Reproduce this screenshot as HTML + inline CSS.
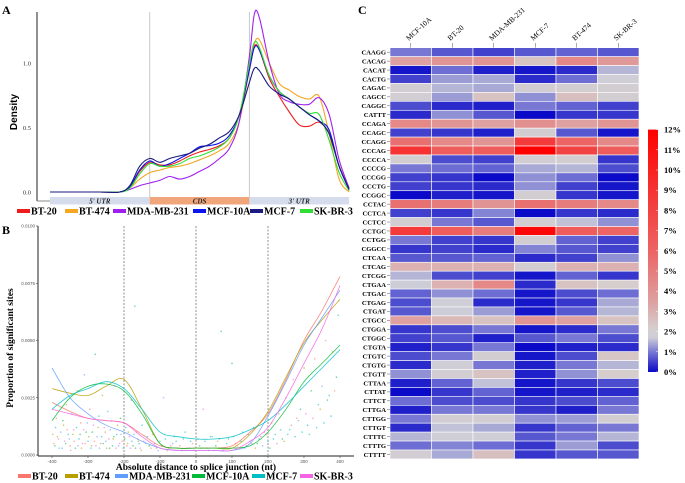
<!DOCTYPE html>
<html><head><meta charset="utf-8"><style>
body{margin:0;background:#fff}
svg{display:block;font-family:"Liberation Serif",serif}
</style></head><body>
<svg id="fig" width="685" height="483" viewBox="0 0 685 483">
<g id="A"></g>
<g id="B"></g>
<g id="C"></g>
</svg>
<script>
const NS="http://www.w3.org/2000/svg";
function mk(p,t,a,txt){const e=document.createElementNS(NS,t);for(const k in a)e.setAttribute(k,a[k]);if(txt!=null)e.textContent=txt;p.appendChild(e);return e;}
function smooth(pts){let d="M"+pts[0][0]+","+pts[0][1];for(let i=0;i<pts.length-1;i++){const p0=pts[i-1]||pts[i],p1=pts[i],p2=pts[i+1],p3=pts[i+2]||p2;
const c1=[p1[0]+(p2[0]-p0[0])/6,p1[1]+(p2[1]-p0[1])/6],c2=[p2[0]-(p3[0]-p1[0])/6,p2[1]-(p3[1]-p1[1])/6];
d+=" C"+c1[0].toFixed(1)+","+c1[1].toFixed(1)+" "+c2[0].toFixed(1)+","+c2[1].toFixed(1)+" "+p2[0].toFixed(1)+","+p2[1].toFixed(1);}return d;}

/* ---------- Panel A data ---------- */
const aSeries=["BT-20","BT-474","MDA-MB-231","MCF-10A","MCF-7","SK-BR-3"];
const aColors=["#ee1c1c","#f5a623","#a020f0","#0a14f0","#1a1a80","#33dd33"];
const aPos=[0,0.5,0.7,0.8,0.9,1.0,1.1,1.2,1.3,1.4,1.5,1.6,1.7,1.8,1.9,2.0,2.05,2.1,2.2,2.3,2.4,2.5,2.6,2.7,2.8,2.9,3.0];
const aBT20=[0,0,0,0.04,0.16,0.23,0.21,0.21,0.24,0.28,0.31,0.33,0.36,0.42,0.6,0.95,1.13,1.1,0.88,0.74,0.62,0.52,0.51,0.54,0.45,0.2,0.02];
const aBT474=[0,0,0,0.03,0.1,0.15,0.17,0.19,0.2,0.22,0.25,0.28,0.32,0.38,0.55,0.95,1.15,1.18,1.0,0.84,0.79,0.74,0.72,0.74,0.45,0.1,0.0];
const aMDA=[0,0,0,0.02,0.05,0.07,0.09,0.12,0.1,0.12,0.16,0.2,0.26,0.34,0.55,1.05,1.38,1.35,1.0,0.76,0.7,0.68,0.68,0.73,0.6,0.25,0.03];
const aMCF10A=[0,0,0,0.04,0.17,0.24,0.2,0.22,0.26,0.3,0.35,0.36,0.38,0.44,0.6,0.95,1.12,1.1,0.9,0.78,0.72,0.66,0.6,0.55,0.48,0.2,0.02];
const aMCF7=[0,0,0,0.05,0.2,0.26,0.23,0.26,0.28,0.3,0.34,0.37,0.42,0.47,0.6,0.85,0.96,0.94,0.82,0.76,0.72,0.66,0.6,0.55,0.45,0.2,0.02];
const aSKBR3=[0,0,0,0.03,0.14,0.22,0.2,0.2,0.22,0.26,0.28,0.31,0.35,0.42,0.6,1.0,1.16,1.12,0.9,0.78,0.72,0.66,0.61,0.6,0.4,0.15,0.01];
const aYTicks=[0,0.5,1.0];
const aYLabels=["0.0","0.5","1.0"];
const aRegions=["5' UTR","CDS","3' UTR"];

/* ---------- Panel B data ---------- */
const bSeries=["BT-20","BT-474","MDA-MB-231","MCF-10A","MCF-7","SK-BR-3"];
const bColors=["#f8766d","#b79f00","#619cff","#00ba38","#00bfc4","#f564e3"];
const bX=[-400,-350,-300,-250,-200,-150,-100,-50,0,50,100,150,200,250,300,350,400];
const bBT20=[2.3,1.9,1.6,1.5,1.4,0.9,0.4,0.3,0.3,0.3,0.4,1.0,1.8,3.3,5.0,6.3,7.8];
const bBT474=[2.9,2.7,2.6,3.0,3.3,2.0,0.5,0.3,0.3,0.3,0.3,0.9,1.9,3.4,4.9,5.9,6.8];
const bMDA=[3.8,2.5,1.8,1.3,1.0,0.6,0.3,0.2,0.2,0.2,0.2,0.5,1.7,3.2,4.8,6.0,7.2];
const bMCF10A=[1.5,2.5,3.0,3.1,2.8,1.8,0.5,0.3,0.3,0.3,0.3,0.4,1.0,2.0,3.2,4.0,4.8];
const bMCF7=[2.0,2.6,2.9,3.2,2.9,2.0,1.0,0.8,0.7,0.7,0.8,1.1,1.5,2.2,3.0,3.8,4.6];
const bSKBR3=[2.0,1.8,1.6,1.5,1.4,0.8,0.3,0.2,0.2,0.2,0.2,0.6,1.2,2.5,4.0,5.5,7.4];
const bYTicks=[0,2.5,5,7.5,10];
const bYLabels=["0.0000","0.0025","0.0050","0.0075","0.0100"];
const bXTicks=[-400,-300,-200,-100,0,100,200,300,400];
/* scatter points: [distance, value(x1e-3), series index] */
const bPts=[[-395,0.5,0],[-390,1.2,4],[-385,0.8,1],[-380,0.3,2],[-370,1.5,3],[-365,0.6,5],[-360,2.2,1],[-355,0.9,4],[-350,0.4,0],[-345,1.8,2],[-340,1.1,5],[-335,0.3,3],[-330,2.8,1],[-325,0.7,4],[-320,1.4,0],[-315,0.5,5],[-310,3.5,2],[-305,1.0,3],[-300,0.6,4],[-295,2.0,0],[-290,0.4,1],[-285,1.3,5],[-280,4.4,3],[-275,0.8,2],[-270,1.7,4],[-265,0.5,0],[-260,2.6,1],[-255,1.2,5],[-250,0.6,2],[-245,1.9,4],[-240,0.3,3],[-235,1.5,0],[-230,0.7,1],[-225,3.0,5],[-220,0.9,4],[-215,0.4,2],[-210,1.6,3],[-205,0.6,0],[-195,1.2,4],[-190,0.5,1],[-185,0.8,5],[-180,2.4,2],[-175,0.4,3],[-170,6.5,4],[-165,1.0,0],[-160,0.6,1],[-155,0.3,5],[-150,1.3,4],[-140,0.5,2],[-130,0.4,3],[-120,0.9,0],[-110,0.3,1],[-100,0.6,4],[-90,2.5,2],[-80,0.2,5],[-70,0.4,0],[-60,0.8,4],[-50,0.3,3],[-40,0.2,1],[-30,1.0,4],[-20,0.3,2],[-10,0.5,0],[10,0.4,4],[20,2.0,5],[30,0.3,3],[40,0.8,4],[50,0.2,1],[60,0.6,0],[70,5.4,4],[80,0.3,2],[90,0.7,4],[100,4.0,3],[110,0.5,5],[120,0.3,0],[130,1.0,4],[140,0.4,1],[150,0.6,2],[160,1.2,4],[170,0.5,3],[180,0.8,0],[190,1.0,5],[200,0.6,4],[210,1.4,1],[220,0.9,4],[230,1.8,0],[240,0.7,3],[250,2.5,2],[260,1.1,4],[270,3.3,5],[280,1.6,0],[290,2.0,4],[300,3.8,1],[310,1.3,4],[320,2.8,3],[330,4.2,0],[340,2.2,4],[350,3.0,2],[360,5.0,5],[370,2.6,4],[380,4.5,1],[390,3.4,3],[395,6.1,4],
[-398,0.9,1],[-392,0.4,3],[-388,1.6,0],[-382,0.7,5],[-376,1.0,2],[-372,0.3,4],[-368,1.3,1],[-362,0.5,3],[-358,1.1,0],[-352,0.7,2],[-348,0.2,5],[-342,0.9,1],[-338,0.6,0],[-332,1.2,4],[-328,0.4,2],[-322,0.9,3],[-318,0.3,1],[-312,1.1,5],[-308,0.5,0],[-302,1.4,2],[-298,0.8,1],[-292,0.3,4],[-288,1.0,3],[-282,0.6,0],[-278,0.4,5],[-272,1.2,1],[-268,0.3,2],[-262,0.8,4],[-258,0.5,3],[-252,1.0,0],[-248,0.3,1],[-242,0.7,5],[-238,1.1,2],[-232,0.4,4],[-228,0.8,3],[-222,0.3,0],[-218,1.3,1],[-212,0.5,5],[-208,0.9,2],[-202,0.3,4],[-198,0.7,3],[-192,0.4,0],[-188,1.0,1],[-182,0.3,5],[-178,0.6,4],[-172,0.9,2],[-168,0.3,3],[-162,0.7,0],[-158,0.5,4],[-152,0.2,1],[-145,0.6,5],[-135,0.8,4],[-125,0.3,0],[-115,0.5,4],[-105,0.2,2],[-95,0.4,4],[-85,0.7,4],[-75,0.3,4],[-65,0.5,2],[-55,0.6,4],[-45,0.4,0],[-35,0.7,4],[-25,0.3,5],[-15,0.6,4],[-5,0.2,1],[5,0.7,4],[15,0.3,0],[25,0.6,4],[35,0.2,2],[45,0.8,4],[55,0.4,3],[65,0.7,4],[75,0.2,5],[85,0.5,4],[95,0.3,1],[105,0.8,4],[115,0.4,0],[125,0.6,4],[135,0.3,2],[145,0.9,4],[155,0.5,5],[165,0.3,1],[175,0.7,4],[185,0.4,2],[195,0.9,0],[205,0.3,3],[215,0.7,4],[225,0.5,5],[235,1.1,4],[245,0.6,1],[255,0.9,4],[265,1.3,0],[275,0.8,4],[285,1.5,2],[295,1.0,4],[305,1.8,5],[315,0.9,4],[325,1.6,0],[335,1.2,4],[345,2.0,1],[355,1.4,4],[365,2.4,3],[375,1.7,4],[385,2.8,0]];

/* ---------- Panel C data ---------- */
const cCols=["MCF-10A","BT-20","MDA-MB-231","MCF-7","BT-474","SK-BR-3"];
const cRows=["CAAGG","CACAG","CACAT","CACTG","CAGAC","CAGCC","CAGGC","CATTT","CCAGA","CCAGC","CCAGG","CCCAG","CCCCA","CCCCG","CCCGG","CCCTG","CCGGC","CCTAC","CCTCA","CCTCC","CCTGC","CCTGG","CGGCC","CTCAA","CTCAG","CTCGG","CTGAA","CTGAC","CTGAG","CTGAT","CTGCC","CTGGA","CTGGC","CTGTA","CTGTC","CTGTG","CTGTT","CTTAA","CTTAT","CTTCT","CTTGA","CTTGG","CTTGT","CTTTC","CTTTG","CTTTT"];
const cVals=[
[1.0,0.7,0.5,0.7,0.8,0.7],[3.5,4,4,2.5,4.5,3.8],[0.1,0.9,0.2,0.1,0.3,1.5],[0.5,1.3,1.4,0.3,0.9,1.8],
[2,1.5,1.4,1.9,2,2],[1.9,1.3,2.5,1.2,2.6,2],[0.6,0.3,0.2,1.0,0.8,0.5],[0.3,1.2,0.7,0.0,0.4,0.4],
[4.5,4.0,3.5,4.2,3.5,4],[0.5,0.4,0.2,2.0,0.7,0.1],[5.5,4.5,4,8.5,6,4.5],[9,6.5,6.5,12,8,6.5],
[2,0.6,0.5,1.9,2,0.4],[1.0,0.9,0.8,1.4,1.5,0.6],[0.5,0.4,0.0,1.2,0.9,0.0],[0.5,0.4,0.3,1.2,0.5,0.1],
[0.0,0.2,0.1,2.0,0.4,0.1],[5.5,5,4,5.5,5,4.5],[0.5,0.4,1.1,0.0,0.4,0.3],[2,1.0,0.7,2,1.6,1.2],
[8.5,6.5,5,11.5,6.5,6],[1.0,0.5,0.4,2.0,0.8,0.5],[0.4,0.5,0.3,1.1,0.7,0.5],[0.7,0.7,0.8,0.3,0.5,1.2],
[3,3,3,2,3,3],[1.5,0.6,0.5,0.1,0.8,0.4],[1.7,3,4.5,0.3,2.5,2.2],[0.8,1.2,0.9,0.1,0.6,0.9],
[0.6,1.8,0.3,0.1,0.4,1.4],[0.7,1.7,1.3,0.1,0.7,1.5],[3.5,2.8,2.5,4,3.5,2.5],[0.4,0.6,1.0,0.1,0.3,1.0],
[0.5,0.7,0.2,0.7,1.0,0.6],[0.2,0.4,1.0,0.0,0.2,0.3],[0.6,1.0,2.0,0.1,0.6,2.4],[0.3,1.8,1.0,0.2,1.0,1.5],
[1.2,2,2.5,0.2,1.2,2.2],[0.2,0.8,1.6,0.1,0.4,0.6],[0.0,0.4,0.8,0.1,0.2,0.3],[0.9,0.6,0.6,0.4,0.6,0.8],
[0.2,1.0,1.0,0.4,0.2,1.0],[1.0,1.9,1.9,1.2,1.3,2.0],[0.3,1.6,1.4,0.4,0.8,1.0],[1.5,1.8,1.8,0.7,1.0,1.5],
[0.9,1.1,0.9,0.4,1.3,0.6],[1.9,1.4,2.6,0.4,0.7,0.7]];
const cLegTicks=[0,1,2,3,4,5,6,7,8,9,10,11,12];

/* ===== Panel A draw ===== */
(function(){
const g=document.getElementById("A");
const xA=t=>50+t*99.7, yA=v=>192-v*129;
let e=mk(g,"text",{x:2,y:14,"font-size":12,"font-weight":"bold"},"A");


e=mk(g,"line",{x1:37,y1:12,x2:37,y2:201,stroke:"#222","stroke-width":1});


mk(g,"line",{x1:37,y1:201,x2:50,y2:201,stroke:"#888","stroke-width":1});
[1,2].forEach(k=>{e=mk(g,"line",{x1:xA(k),y1:12,x2:xA(k),y2:197,stroke:"#c8c8c8","stroke-width":1});

});
aYTicks.forEach((v,i)=>{e=mk(g,"text",{x:31,y:yA(v)+2.5,"font-size":6.5,"text-anchor":"end",fill:"#333"},aYLabels[i]);

});
e=mk(g,"text",{x:0,y:0,"font-size":10,"font-weight":"bold",transform:"translate(17,112) rotate(-90)","text-anchor":"middle","font-family":"Liberation Sans, sans-serif"},"Density");


const regFill=["#d5dcec","#f0a57a","#d5dcec"];
aRegions.forEach((r,i)=>{e=mk(g,"rect",{x:xA(i),y:197,width:99.7,height:7.5,fill:regFill[i]});


e=mk(g,"text",{x:xA(i+0.5),y:203.5,"font-size":7,"font-style":"italic","font-weight":"bold","text-anchor":"middle",fill:"#222"},r);

});
const arrs=[aBT20,aBT474,aMDA,aMCF10A,aMCF7,aSKBR3];
[1,2,0,3,5,4].forEach(i=>{const pts=aPos.map((t,j)=>[xA(t),yA(arrs[i][j])]);
e=mk(g,"path",{d:smooth(pts),fill:"none",stroke:aColors[i],"stroke-width":1.1});

});
const lx=[17,65,113,193,250,300];
aSeries.forEach((s,i)=>{e=mk(g,"rect",{x:lx[i],y:209,width:13,height:4,fill:aColors[i]});


e=mk(g,"text",{x:lx[i]+14,y:214.5,"font-size":10,"font-weight":"bold"},s);

});
})();

/* ===== Panel B draw ===== */
(function(){
const g=document.getElementById("B");
const xB=d=>196+d*0.36, yB=v=>455-v*22.9;
let e=mk(g,"text",{x:2,y:234,"font-size":12,"font-weight":"bold"},"B");


[-200,0,200].forEach(d=>{e=mk(g,"line",{x1:xB(d),y1:226,x2:xB(d),y2:455,stroke:"#666","stroke-width":0.7,"stroke-dasharray":"2,1.5"});

});
e=mk(g,"line",{x1:38,y1:226,x2:38,y2:456,stroke:"#222","stroke-width":1});


e=mk(g,"line",{x1:38,y1:456,x2:354,y2:456,stroke:"#222","stroke-width":1});


bYTicks.forEach((v,i)=>{mk(g,"line",{x1:36,y1:yB(v),x2:38,y2:yB(v),stroke:"#444","stroke-width":0.6});
e=mk(g,"text",{x:35,y:yB(v)+1.5,"font-size":4.5,"text-anchor":"end",fill:"#555","font-family":"Liberation Sans, sans-serif"},bYLabels[i]);

});
bXTicks.forEach(d=>{mk(g,"line",{x1:xB(d),y1:456,x2:xB(d),y2:458,stroke:"#444","stroke-width":0.6});
e=mk(g,"text",{x:xB(d),y:463,"font-size":4.5,"text-anchor":"middle",fill:"#555","font-family":"Liberation Sans, sans-serif"},String(d));

});
bPts.forEach(p=>{e=mk(g,"circle",{cx:xB(p[0]),cy:yB(p[1]),r:0.8,fill:bColors[p[2]],opacity:0.6});

});
const arrs=[bBT20,bBT474,bMDA,bMCF10A,bMCF7,bSKBR3];
arrs.forEach((a,i)=>{const pts=bX.map((d,j)=>[xB(d),yB(a[j])]);
e=mk(g,"path",{d:smooth(pts),fill:"none",stroke:bColors[i],"stroke-width":0.8,opacity:0.85});

});
e=mk(g,"text",{x:0,y:0,"font-size":9.5,"font-weight":"bold",transform:"translate(13,348) rotate(-90)","text-anchor":"middle"},"Proportion of significant sites");


e=mk(g,"text",{x:196,y:470,"font-size":9.5,"font-weight":"bold","text-anchor":"middle"},"Absolute distance to splice junction (nt)");


const lx=[18,65,115,192,252,300];
bSeries.forEach((s,i)=>{e=mk(g,"rect",{x:lx[i],y:474,width:13,height:4,fill:bColors[i]});


e=mk(g,"text",{x:lx[i]+14,y:479.5,"font-size":10,"font-weight":"bold"},s);

});
})();

/* ===== Panel C draw ===== */
(function(){
const g=document.getElementById("C");
const stops=[[0,[10,10,200]],[1,[120,120,212]],[1.7,[205,205,215]],[2.2,[214,205,205]],[3.5,[222,160,160]],[6,[236,100,100]],[12,[255,0,0]]];
function col(v){for(let i=0;i<stops.length-1;i++){const a=stops[i],b=stops[i+1];if(v<=b[0]){const t=Math.max(0,(v-a[0])/(b[0]-a[0]));
return "rgb("+a[1].map((c,k)=>Math.round(c+(b[1][k]-c)*t)).join(",")+")";}}return "rgb(255,0,0)";}
const x0=390,cw=41.5,y0=47.7,rh=8.94;
let e=mk(g,"text",{x:358,y:14,"font-size":12,"font-weight":"bold"},"C");


cRows.forEach((r,i)=>{cCols.forEach((c,j)=>{e=mk(g,"rect",{x:x0+j*cw,y:y0+i*rh,width:cw,height:rh,fill:col(cVals[i][j]),stroke:"#fff","stroke-width":0.6});

});
mk(g,"line",{x1:387,y1:y0+(i+.5)*rh,x2:390,y2:y0+(i+.5)*rh,stroke:"#555","stroke-width":0.5});
e=mk(g,"text",{x:386,y:y0+(i+.5)*rh+2.3,"font-size":6.6,"font-weight":"bold","text-anchor":"end"},r);

});
cCols.forEach((c,j)=>{const cx=x0+(j+.5)*cw;mk(g,"line",{x1:cx,y1:43,x2:cx,y2:47.7,stroke:"#555","stroke-width":0.5});
e=mk(g,"text",{x:0,y:0,"font-size":7.5,transform:"translate("+(cx-2)+",41) rotate(-42)"},c);

});
const defs=mk(g,"defs",{});const lg=mk(defs,"linearGradient",{id:"cg",x1:0,y1:1,x2:0,y2:0});
stops.forEach(s=>mk(lg,"stop",{offset:(s[0]/12*100)+"%","stop-color":col(s[0])}));
const ly=v=>372-v*20.2;
e=mk(g,"rect",{x:648,y:ly(12),width:10,height:12*20.2,fill:"url(#cg)"});


cLegTicks.forEach(v=>{mk(g,"line",{x1:656,y1:ly(v),x2:658,y2:ly(v),stroke:"#fff","stroke-width":0.5});
e=mk(g,"text",{x:664,y:ly(v)+3,"font-size":8.5,"font-weight":"bold"},v+"%");

});
})();
</script>
</body></html>
